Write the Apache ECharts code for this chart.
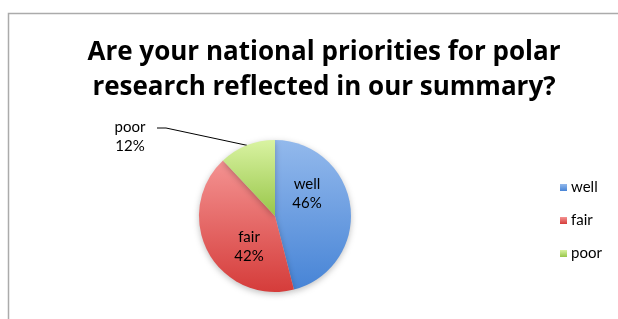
<!DOCTYPE html>
<html>
<head>
<meta charset="utf-8">
<script src="https://cdn.jsdelivr.net/npm/echarts@6/dist/echarts.min.js"></script>
<style>
  html, body { margin: 0; padding: 0; background: #fff; }
  #chart { width: 618px; height: 319px; }
</style>
</head>
<body>
<div id="chart"></div>
<script>
// data
const categories = ['well', 'fair', 'poor'];
const shares = [46, 42, 12];
const topColors = ['#93b9ec', '#f49392', '#d9f3a2'];
const bottomColors = ['#4784d6', '#d53c3a', '#98c649'];

const chartDom = document.getElementById('chart');
const myChart = echarts.init(chartDom);

const pieData = categories.map((name, i) => ({
  name: name,
  value: shares[i],
  itemStyle: {
    color: new echarts.graphic.LinearGradient(0, 0, 0, 1, [
      { offset: 0, color: topColors[i] },
      { offset: 1, color: bottomColors[i] }
    ])
  },
  label: { position: name === 'poor' ? 'outside' : 'inner' },
  labelLine: { show: name === 'poor' }
}));

// where Excel put the labels
const labelSpots = [[307, 194], [249, 247], [130, 137]];

const option = {
  backgroundColor: '#fff',
  title: {
    text: 'Are your national priorities for polar\nresearch reflected in our summary?',
    left: 319,
    top: 30,
    textAlign: 'center',
    textStyle: {
      fontFamily: 'Open Sans',
      fontWeight: 'bold',
      fontSize: 26,
      lineHeight: 35,
      color: '#000'
    }
  },
  graphic: [
    {
      type: 'rect',
      shape: { x: 8.5, y: 13.5, width: 700, height: 400 },
      style: { fill: 'none', stroke: '#ababab', lineWidth: 1.5 },
      silent: true
    }
  ],
  legend: {
    orient: 'vertical',
    left: 555,
    top: 175,
    icon: 'rect',
    itemWidth: 7,
    itemHeight: 7,
    itemGap: 18,
    textStyle: { fontFamily: 'Lato', fontSize: 15, color: '#000', padding: [0, 0, 0, -1] },
    data: categories
  },
  series: [
    {
      type: 'pie',
      center: [275, 216],
      radius: 76,
      startAngle: 90,
      clockwise: true,
      animation: false,
      label: {
        formatter: '{b}\n{c}%',
        fontFamily: 'Lato',
        fontSize: 15,
        lineHeight: 19,
        color: '#000',
        align: 'center'
      },
      labelLine: {
        lineStyle: { color: '#000', width: 1 },
        length: 8,
        length2: 70
      },
      labelLayout: function (params) {
        const spot = labelSpots[params.dataIndex];
        const out = { x: spot[0], y: spot[1], align: 'center', verticalAlign: 'middle' };
        if (params.dataIndex === 2 && params.labelLinePoints) {
          // keep the sector end, bend beside the label's first line
          const p0 = params.labelLinePoints[0];
          const ex = spot[0] + 27;
          const ey = spot[1] - 9;
          out.labelLinePoints = [p0, [ex + 9, ey], [ex, ey]];
        }
        return out;
      },
      itemStyle: {
        shadowBlur: 6,
        shadowColor: 'rgba(0,0,0,0.25)',
        shadowOffsetY: 2
      },
      data: pieData
    }
  ]
};
myChart.setOption(option);
</script>
</body>
</html>
